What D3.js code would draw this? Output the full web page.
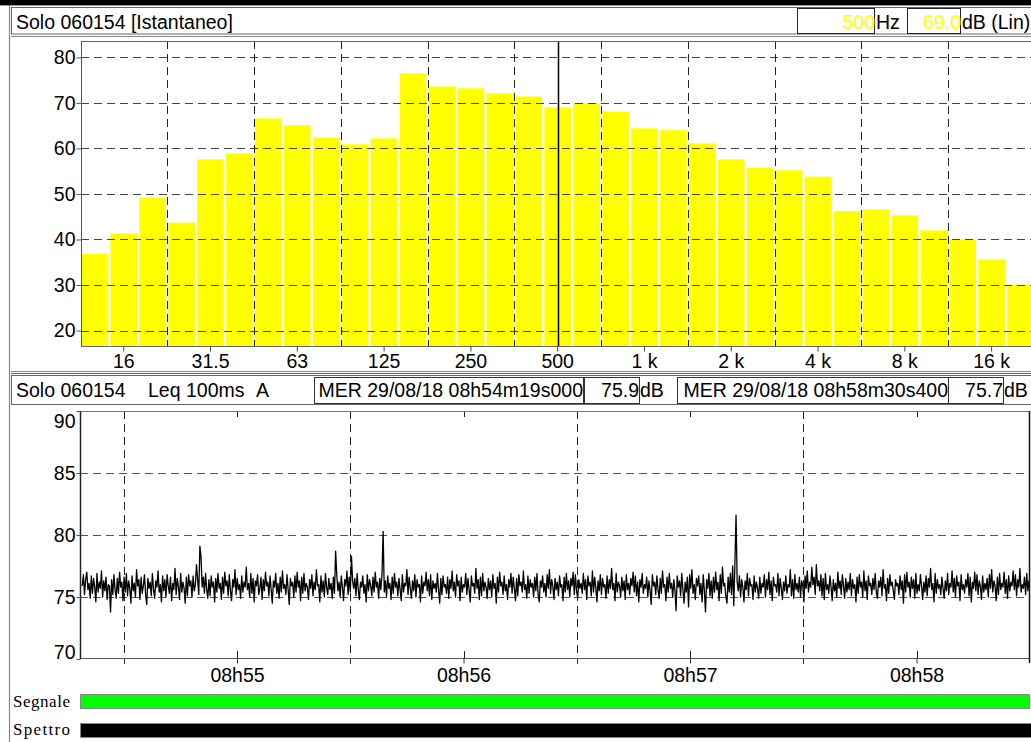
<!DOCTYPE html>
<html><head><meta charset="utf-8">
<script src="https://cdn.jsdelivr.net/npm/d3@7"></script>
<style>
html,body{margin:0;padding:0;background:#fff;overflow:hidden;}
svg{display:block;font-family:"Liberation Sans",Arial,sans-serif;}
</style></head><body>
<svg id="c" width="1031" height="742"></svg>
<script>
// ---------- data ----------
const bandNames = ["12.5","16","20","25","31.5","40","50","63","80","100","125","160","200","250","315","400","500","630","800","1k","1.25k","1.6k","2k","2.5k","3.15k","4k","5k","6.3k","8k","10k","12.5k","16k","20k"];
const bandLevels = [36.9,41.3,49.2,43.7,57.6,58.9,66.6,65.1,62.4,60.9,62.2,76.5,73.6,73.2,72.1,71.4,69.0,69.9,68.1,64.4,64.0,61.1,57.6,55.8,55.2,53.8,46.2,46.6,45.3,42.0,40.0,35.6,30.1];
const octaveTicks = ["16","31.5","63","125","250","500","1k","2k","4k","8k","16k"];
const octaveLabels = ["16","31.5","63","125","250","500","1 k","2 k","4 k","8 k","16 k"];
const gridBands = ["12.5","25","50","100","200","400","800","1.6k","3.15k","6.3k","12.5k"];
const spectrumTicks = [20,30,40,50,60,70,80];
const spectrumTitle = "Solo 060154 [Istantaneo]";
const cursorBand = "500";
const cursorText = "500";
const cursorLevel = "69.0";

const levelTitle = ["Solo 060154","Leq 100ms","A"];
const seriesStart = "2018-08-29T08:54:19.000";
const seriesEnd = "2018-08-29T08:58:30.400";
const viewStart = "2018-08-29T08:54:18.400";
const viewEnd = "2018-08-29T08:58:29.800";
const startLabel = "MER 29/08/18 08h54m19s000";
const endLabel = "MER 29/08/18 08h58m30s400";
const startLevel = "75.9";
const endLevel = "75.7";
const levelTicks = [70,75,80,85,90];
const levelSeries = [
75.9,76.8,75.2,76.4,77.0,75.6,76.1,74.9,76.7,75.3,76.5,75.8,74.6,76.9,75.4,76.2,75.7,77.1,75.0,76.3,
75.5,76.6,74.8,76.0,75.9,73.8,76.4,75.2,76.8,75.6,74.9,76.5,75.3,77.0,75.8,76.2,74.7,76.6,75.4,76.9,
75.1,76.3,75.7,74.5,76.7,75.5,76.1,75.0,77.2,75.9,76.4,74.8,76.6,75.3,75.9,76.8,75.2,74.4,76.5,75.7,
76.2,75.1,76.9,75.6,74.9,76.3,75.8,77.1,75.4,76.0,74.6,76.7,75.5,76.4,75.0,76.8,75.9,75.3,76.6,74.7,
76.1,75.6,77.3,75.2,76.5,75.8,74.8,76.9,75.4,76.2,75.7,74.5,76.6,75.1,76.8,75.9,76.3,75.0,76.7,75.5,
76.0,77.6,76.4,75.2,79.1,78.2,75.8,76.6,75.3,76.9,75.6,74.9,76.4,75.1,76.7,75.8,76.2,74.6,76.5,75.4,
76.9,75.7,76.1,74.8,76.6,75.3,77.0,75.9,76.3,75.1,76.8,75.5,74.7,76.4,75.8,77.2,75.2,76.5,75.6,76.0,
74.9,76.7,75.4,76.2,75.8,77.4,75.6,76.1,75.0,76.9,75.3,76.5,74.6,76.3,75.9,76.8,75.2,75.7,76.6,74.8,
76.4,75.5,77.0,75.9,76.2,75.1,76.7,75.6,74.5,76.3,75.8,76.9,75.3,76.1,74.9,76.6,75.4,77.1,75.7,76.0,
75.2,76.8,75.6,74.4,76.5,75.9,76.2,75.0,76.7,75.4,77.0,75.8,76.3,74.7,76.6,75.3,76.9,75.5,76.1,75.8,
74.8,76.4,75.7,76.8,75.1,76.2,75.6,77.2,75.9,76.0,74.6,76.7,75.4,76.3,75.0,76.9,75.8,75.2,76.5,75.6,
76.1,74.9,76.6,75.3,78.7,76.8,75.5,76.2,75.0,76.7,75.8,74.7,76.4,75.9,77.1,75.2,76.6,75.4,78.3,76.3,
75.7,76.5,75.1,76.9,75.6,74.8,76.2,75.8,76.7,75.3,76.0,74.6,76.8,75.5,76.4,75.9,75.1,76.6,75.4,77.0,
75.8,76.2,74.9,76.5,75.6,76.9,80.3,75.4,76.3,75.0,76.7,75.7,76.1,74.8,76.6,75.3,76.9,75.8,76.2,75.1,
76.5,75.6,74.7,76.8,75.4,76.1,75.9,77.2,75.2,76.6,75.7,74.9,76.3,75.5,76.8,75.0,76.4,75.8,76.0,74.6,
76.7,75.3,76.2,75.9,77.0,75.5,76.4,75.1,76.8,74.8,76.3,75.7,76.1,75.4,76.9,75.6,74.5,76.5,75.2,76.7,
75.8,76.0,75.3,76.6,74.9,76.4,75.7,77.1,75.5,76.2,75.0,76.8,75.9,76.3,74.7,76.6,75.4,76.0,75.8,76.9,
75.2,76.5,75.6,74.6,76.7,75.9,76.1,75.3,77.3,75.7,76.4,74.8,76.6,75.1,76.9,75.5,76.2,75.8,74.9,76.5,
75.6,76.3,75.0,76.8,75.7,76.1,74.5,76.6,75.4,77.0,75.9,76.2,75.2,76.7,75.5,76.0,74.8,76.4,75.8,76.9,
75.3,76.6,75.7,74.7,76.5,75.1,76.8,75.9,76.2,75.4,77.1,75.6,76.0,74.9,76.7,75.3,76.4,75.8,76.1,75.0,
76.6,75.5,76.9,75.2,74.6,76.3,75.8,76.7,75.4,76.1,75.0,76.8,75.7,77.2,75.3,76.4,75.9,74.8,76.5,75.6,
76.2,75.1,76.7,75.8,76.0,74.7,76.6,75.4,76.9,75.6,76.3,75.0,76.5,75.9,77.0,75.2,76.8,75.5,74.9,76.4,
75.7,76.1,75.3,76.9,75.6,76.4,74.8,76.7,75.9,76.2,75.1,77.1,75.4,76.6,75.8,74.6,76.3,75.5,76.8,75.2,
76.5,75.8,76.0,74.9,76.7,75.3,76.4,75.7,77.3,75.6,76.1,74.7,76.9,75.4,76.2,75.9,75.0,76.6,75.5,76.3,
74.8,76.8,75.6,76.1,75.2,76.5,75.9,77.0,75.4,76.7,75.1,76.2,74.6,76.4,75.8,76.9,75.3,76.0,75.7,76.6,
75.0,76.3,75.5,74.4,76.8,75.9,76.2,75.2,76.7,75.6,74.9,76.5,75.3,77.1,75.8,76.0,74.7,76.6,75.4,76.9,
75.7,76.1,75.0,76.4,75.5,73.9,76.7,75.8,76.3,75.1,76.9,75.6,74.5,76.2,75.4,76.6,74.2,76.8,75.7,77.2,
75.3,76.0,74.8,76.5,75.9,76.7,75.2,76.1,74.6,76.8,75.5,73.8,76.4,75.7,76.9,75.1,76.3,74.9,76.6,75.4,
77.0,75.6,76.2,74.7,76.8,75.3,77.4,75.9,76.1,75.0,74.5,76.6,75.4,76.9,75.2,77.5,74.3,77.7,81.6,76.2,
75.5,76.7,75.0,76.4,75.8,74.6,76.3,75.6,76.9,75.1,76.5,75.9,76.0,74.8,76.7,75.4,76.2,75.7,74.9,76.6,
75.3,76.1,75.8,76.8,75.0,76.4,75.6,77.0,75.2,76.3,74.7,76.6,75.9,76.0,75.4,76.9,75.1,76.5,75.7,74.8,
76.2,75.5,76.7,75.3,76.0,75.8,77.2,75.1,76.4,74.9,76.8,75.6,76.1,75.4,76.6,75.0,76.3,75.9,74.6,76.7,
75.7,77.1,75.4,76.2,75.8,77.4,76.0,76.6,75.2,77.6,75.9,76.3,75.5,76.8,75.1,76.5,74.8,76.9,75.6,76.0,
75.3,76.7,75.8,74.7,76.4,75.5,76.1,75.0,77.0,75.7,76.3,75.2,76.8,75.9,74.9,76.5,75.4,76.2,75.6,76.9,
75.1,76.4,75.7,76.0,74.6,76.6,75.3,76.8,75.8,76.2,75.0,77.1,75.5,76.3,74.8,76.7,75.9,76.1,75.2,76.5,
75.6,76.9,75.4,74.9,76.3,75.8,76.6,75.1,77.2,75.7,76.0,74.7,76.5,75.3,76.8,75.9,76.2,75.5,74.8,76.4,
75.9,76.1,75.2,76.7,75.6,76.3,74.5,76.8,75.4,77.0,75.8,76.2,75.0,76.6,75.7,76.4,74.9,76.9,75.3,76.0,
75.5,76.8,75.9,74.8,76.2,75.4,76.7,75.1,76.5,75.8,77.3,75.6,76.1,74.6,76.9,75.3,76.4,75.7,76.0,75.2,
76.6,75.7,74.9,76.3,75.5,76.9,75.2,76.1,75.8,77.1,75.4,76.5,75.0,76.7,75.9,76.2,74.7,76.8,75.6,76.0,
75.3,76.4,75.8,76.9,75.1,76.6,74.6,76.2,75.7,77.0,75.5,76.8,75.2,76.3,75.9,74.8,76.7,75.4,76.1,75.6,
76.5,75.0,76.8,75.7,77.2,75.4,76.3,75.9,74.7,76.6,75.2,76.9,75.6,76.1,75.8,77.0,75.3,76.4,74.9,76.7,
75.5,76.2,75.9,77.1,75.6,76.8,75.1,76.4,75.8,77.3,75.4,76.0,75.7,76.6,75.2,76.9,75.5,76.3,75.9,75.7
];
const statusLabels = ["Segnale","Spettro"];

// ---------- drawing ----------
const svg = d3.select("#c");
const FS = "19.5px";
const FF = "Liberation Sans, Arial, sans-serif";

// outer decorations
svg.append("rect").attr("x",0).attr("y",0).attr("width",1031).attr("height",5).attr("fill","#000");
svg.append("line").attr("x1",0).attr("x2",1031).attr("y1",5.5).attr("y2",5.5).attr("stroke","#999");
svg.append("line").attr("x1",9.5).attr("x2",9.5).attr("y1",5).attr("y2",742).attr("stroke","#888").attr("stroke-width",1.2);

// ===== top header =====
svg.append("rect").attr("x",11.5).attr("y",7.5).attr("width",1030).attr("height",26.5).attr("fill","#fff").attr("stroke","#666");
svg.append("line").attr("x1",11).attr("x2",1031).attr("y1",36.5).attr("y2",36.5).attr("stroke","#888");
svg.append("text").attr("x",16).attr("y",29).attr("font-size",FS).text(spectrumTitle);
svg.append("rect").attr("x",797.5).attr("y",8.5).attr("width",77).attr("height",25).attr("fill","#fff").attr("stroke","#222");
svg.append("text").attr("x",875).attr("y",29).attr("text-anchor","end").attr("font-size",FS).attr("fill","#ffff00").text(cursorText);
svg.append("text").attr("x",876).attr("y",29).attr("font-size",FS).text("Hz");
svg.append("rect").attr("x",907.5).attr("y",8.5).attr("width",53).attr("height",25).attr("fill","#fff").attr("stroke","#222");
svg.append("text").attr("x",961).attr("y",29).attr("text-anchor","end").attr("font-size",FS).attr("fill","#ffff00").text(cursorLevel);
svg.append("text").attr("x",962).attr("y",29).attr("font-size",FS).text("dB (Lin)");

// ===== spectrum chart =====
const top1 = 41, bot1 = 346, left1 = 81;
const xb = d3.scaleBand().domain(bandNames).range([81.5, 81.5 + 28.93*(bandNames.length-0.08)]).paddingInner(0.08).paddingOuter(0);
const ys = d3.scaleLinear().domain([16.6, 83.6]).range([bot1, top1]);
const gap = xb.step() - xb.bandwidth();

const g1 = svg.append("g");
g1.append("defs").append("clipPath").attr("id","clip1").append("rect").attr("x",left1).attr("y",top1).attr("width",1031-left1).attr("height",bot1-top1);
const plot1 = g1.append("g").attr("clip-path","url(#clip1)");
plot1.selectAll("rect.bar").data(bandNames).join("rect").attr("class","bar")
  .attr("x", d=>xb(d)).attr("width", xb.bandwidth())
  .attr("y", (d,i)=>ys(bandLevels[i])).attr("height",(d,i)=>bot1-ys(bandLevels[i]))
  .attr("fill","#ffff00");
plot1.selectAll("line.hg").data(spectrumTicks).join("line")
  .attr("x1",left1).attr("x2",1031).attr("y1",d=>Math.round(ys(d))+0.5).attr("y2",d=>Math.round(ys(d))+0.5)
  .attr("stroke","#444").attr("stroke-dasharray","8,5");
plot1.selectAll("line.vg").data(gridBands).join("line")
  .attr("x1",d=>Math.round(xb(d)-gap/2)+0.5).attr("x2",d=>Math.round(xb(d)-gap/2)+0.5)
  .attr("y1",top1).attr("y2",bot1).attr("stroke","#222").attr("stroke-dasharray","8,5");
plot1.append("line").attr("x1",Math.round(xb(cursorBand)+xb.bandwidth()/2)+0.5).attr("x2",Math.round(xb(cursorBand)+xb.bandwidth()/2)+0.5)
  .attr("y1",top1).attr("y2",bot1).attr("stroke","#000").attr("stroke-width",1.5);
g1.append("line").attr("x1",left1).attr("x2",1031).attr("y1",top1+0.5).attr("y2",top1+0.5).attr("stroke","#666");
g1.append("line").attr("x1",left1).attr("x2",1031).attr("y1",bot1+0.5).attr("y2",bot1+0.5).attr("stroke","#666");
g1.append("line").attr("x1",left1+0.5).attr("x2",left1+0.5).attr("y1",top1).attr("y2",bot1).attr("stroke","#555");
const ay1 = g1.append("g").attr("transform",`translate(${left1+0.5},0)`).call(d3.axisLeft(ys).tickValues(spectrumTicks).tickSize(5).tickPadding(1));
ay1.select(".domain").remove();
ay1.selectAll("text").attr("font-size",FS).attr("font-family",FF).attr("fill","#000");
ay1.selectAll("line").attr("stroke","#555");
const ax1 = g1.append("g").attr("transform",`translate(0,${bot1+0.5})`).call(d3.axisBottom(xb).tickValues(octaveTicks).tickFormat((d,i)=>octaveLabels[i]).tickSize(5).tickPadding(3));
ax1.select(".domain").remove();
ax1.selectAll("text").attr("font-size",FS).attr("font-family",FF).attr("fill","#000");
ax1.selectAll("line").attr("stroke","#444");

// separator
svg.append("line").attr("x1",11).attr("x2",1031).attr("y1",371.5).attr("y2",371.5).attr("stroke","#888");
svg.append("line").attr("x1",11).attr("x2",1031).attr("y1",373.5).attr("y2",373.5).attr("stroke","#666");

// ===== level header =====
svg.append("rect").attr("x",11.5).attr("y",375.5).attr("width",1030).attr("height",29).attr("fill","#fff").attr("stroke","#666");
svg.append("text").attr("x",16).attr("y",397).attr("font-size",FS).text(levelTitle[0]);
svg.append("text").attr("x",148).attr("y",397).attr("font-size",FS).text(levelTitle[1]);
svg.append("text").attr("x",256).attr("y",397).attr("font-size",FS).text(levelTitle[2]);
function box(x,w,txt,after){
  svg.append("rect").attr("x",x+0.5).attr("y",377.5).attr("width",w).attr("height",26).attr("fill","#fff").attr("stroke","#333");
  svg.append("text").attr("x",x+w).attr("y",397).attr("text-anchor","end").attr("font-size",FS).text(txt);
  if(after) svg.append("text").attr("x",x+w+1).attr("y",397).attr("font-size",FS).text(after);
}
box(314,269,startLabel);
box(584,55,startLevel,"dB");
box(677,271,endLabel);
box(948,55,endLevel,"dB");

// ===== level chart =====
const top2 = 411, bot2 = 659, left2 = 80, right2 = 1029;
const xt = d3.scaleTime().domain([new Date(viewStart), new Date(viewEnd)]).range([left2, right2]);
const yl = d3.scaleLinear().domain([70,90]).range([bot2, top2]);
const t0 = +new Date(seriesStart), t1 = +new Date(seriesEnd);
const N = levelSeries.length;
const pts = levelSeries.map((v,i)=>({t:new Date(t0 + i*(t1-t0)/(N-1)), v}));

const g2 = svg.append("g");
g2.append("defs").append("clipPath").attr("id","clip2").append("rect").attr("x",left2).attr("y",top2).attr("width",right2-left2).attr("height",bot2-top2);
const plot2 = g2.append("g").attr("clip-path","url(#clip2)");
const halfMin = d3.timeSecond.every(30).range(xt.domain()[0], xt.domain()[1]).filter(d=>d.getSeconds()===30);
const minutes = d3.timeMinute.every(1).range(xt.domain()[0], xt.domain()[1]);
plot2.selectAll("line.hg").data([75,80,85]).join("line")
  .attr("x1",left2).attr("x2",right2).attr("y1",d=>Math.round(yl(d))+0.5).attr("y2",d=>Math.round(yl(d))+0.5)
  .attr("stroke","#555").attr("stroke-dasharray","8,5");
plot2.selectAll("line.vg").data(halfMin).join("line")
  .attr("x1",d=>Math.round(xt(d))+0.5).attr("x2",d=>Math.round(xt(d))+0.5)
  .attr("y1",top2).attr("y2",bot2).attr("stroke","#222").attr("stroke-dasharray","8,5");
plot2.selectAll("line.mt").data(minutes).join("line")
  .attr("x1",d=>Math.round(xt(d))+0.5).attr("x2",d=>Math.round(xt(d))+0.5)
  .attr("y1",bot2-8).attr("y2",bot2).attr("stroke","#222");
plot2.selectAll("line.mt2").data(minutes).join("line")
  .attr("x1",d=>Math.round(xt(d))+0.5).attr("x2",d=>Math.round(xt(d))+0.5)
  .attr("y1",top2).attr("y2",top2+6).attr("stroke","#222");
plot2.append("path").datum(pts)
  .attr("d", d3.line().x(d=>xt(d.t)).y(d=>yl(d.v)))
  .attr("fill","none").attr("stroke","#000").attr("stroke-width",1.3).attr("stroke-linejoin","round");
g2.append("line").attr("x1",left2).attr("x2",right2).attr("y1",top2+0.5).attr("y2",top2+0.5).attr("stroke","#777");
g2.append("line").attr("x1",left2).attr("x2",right2+1).attr("y1",bot2-0.5).attr("y2",bot2-0.5).attr("stroke","#555");
g2.append("line").attr("x1",left2+0.5).attr("x2",left2+0.5).attr("y1",top2).attr("y2",bot2).attr("stroke","#222").attr("stroke-width",1.5);
g2.append("line").attr("x1",right2+0.5).attr("x2",right2+0.5).attr("y1",top2).attr("y2",bot2+4).attr("stroke","#111").attr("stroke-width",1.5);
const ay2 = g2.append("g").attr("transform",`translate(${left2+0.5},0)`).call(d3.axisLeft(yl).tickValues(levelTicks).tickSize(4).tickPadding(1));
ay2.select(".domain").remove();
ay2.selectAll("text").attr("font-size",FS).attr("font-family",FF).attr("fill","#000")
  .attr("dy", d=> d===90 ? "0.85em" : (d===70 ? "-0.02em" : "0.32em"));
ay2.selectAll("line").attr("stroke","#555");
const ax2 = g2.append("g").attr("transform",`translate(0,${bot2-0.5})`).call(d3.axisBottom(xt).tickValues(minutes).tickFormat(d3.timeFormat("%Hh%M")).tickSize(5).tickPadding(5));
ax2.select(".domain").remove();
ax2.selectAll("text").attr("font-size",FS).attr("font-family",FF).attr("fill","#000");
ax2.selectAll("line").attr("stroke","#333");
g2.selectAll("line.ht").data(halfMin).join("line")
  .attr("x1",d=>Math.round(xt(d))+0.5).attr("x2",d=>Math.round(xt(d))+0.5)
  .attr("y1",bot2).attr("y2",bot2+5).attr("stroke","#333");

// ===== status bars =====
svg.append("text").attr("x",13).attr("y",707).attr("font-family","Liberation Serif, Times New Roman, serif").attr("font-size","17px").attr("textLength",57).text(statusLabels[0]);
svg.append("text").attr("x",13).attr("y",735).attr("font-family","Liberation Serif, Times New Roman, serif").attr("font-size","17px").attr("textLength",57).text(statusLabels[1]);
svg.append("rect").attr("x",80.5).attr("y",694.5).attr("width",949).attr("height",14).attr("fill","#00ff00").attr("stroke","#888");
svg.append("rect").attr("x",80.5).attr("y",723.5).attr("width",960).attr("height",14).attr("fill","#000").attr("stroke","#888");
</script>
</body></html>
